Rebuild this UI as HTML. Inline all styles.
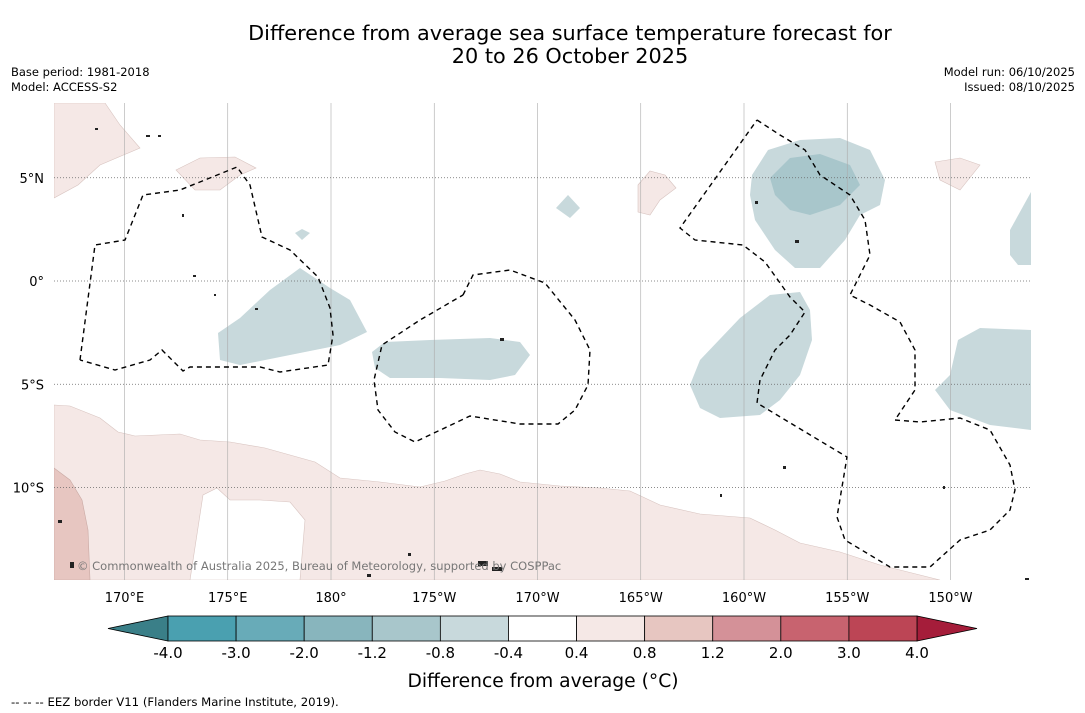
<!DOCTYPE html>
<html><head><meta charset="utf-8"><style>
body{margin:0;background:#fff;font-family:"DejaVu Sans","Liberation Sans",sans-serif;}
#wrap{position:relative;width:1085px;height:713px;overflow:hidden;background:#fff}
.t{position:absolute;color:#000;white-space:nowrap}
svg text{font-family:"DejaVu Sans","Liberation Sans",sans-serif}
</style></head><body>
<div id="wrap">
<div class="t" style="left:0;width:1140px;top:22px;font-size:20.8px;text-align:center;line-height:23px">Difference from average sea surface temperature forecast for<br>20 to 26 October 2025</div>
<div class="t" style="left:11px;top:65px;font-size:11.5px;line-height:15px">Base period: 1981-2018<br>Model: ACCESS-S2</div>
<div class="t" style="right:10px;top:65px;font-size:11.5px;line-height:15px;text-align:right">Model run: 06/10/2025<br>Issued: 08/10/2025</div>
<svg id="svg" width="1085" height="713" style="position:absolute;left:0;top:0">
<defs><clipPath id="mc"><rect x="54" y="103" width="977" height="477"/></clipPath></defs>
<g clip-path="url(#mc)">
<polygon fill="#f5e8e6" stroke="#d8c4c0" stroke-width="0.6" points="54,405 70,406 100,418 118,432 135,436 180,434 200,440 230,442 265,448 290,455 315,462 340,478 380,482 420,487 445,481 465,474 480,470 500,474 520,482 560,486 600,488 630,491 660,505 700,514 750,518 775,530 800,543 840,552 880,565 920,575 940,580 54,580"/>
<polygon fill="#fff" stroke="#d8c4c0" stroke-width="0.6" points="190,580 203,495 217,488 230,500 260,500 290,502 305,520 300,580"/>
<polygon fill="#e7c6c1" stroke="#c9a9a4" stroke-width="0.6" points="54,468 70,480 82,500 88,530 90,580 54,580"/>
<polygon fill="#f5e8e6" stroke="#d8c4c0" stroke-width="0.6" points="54,103 105,103 120,125 140,148 100,165 78,185 54,198"/>
<polygon fill="#f5e8e6" stroke="#d8c4c0" stroke-width="0.6" points="176,170 200,158 235,157 256,168 240,175 220,190 195,190"/>
<polygon fill="#f5e8e6" stroke="#d8c4c0" stroke-width="0.6" points="638,185 650,171 665,175 676,188 660,200 650,215 638,212"/>
<polygon fill="#f5e8e6" stroke="#d8c4c0" stroke-width="0.6" points="935,162 960,158 980,165 960,190 940,180"/>
<g fill="#c8d9dc">
<polygon points="218,333 240,318 270,290 300,268 330,288 350,300 367,332 340,345 290,355 240,365 220,360"/>
<polygon points="372,352 385,342 430,340 490,338 520,342 530,355 515,375 490,380 440,378 390,378 375,368"/>
<polygon points="690,385 700,360 740,318 770,295 800,292 810,310 812,340 800,375 780,400 760,415 720,418 700,408"/>
<polygon points="935,390 950,375 958,340 980,328 1031,330 1031,430 990,425 950,410"/>
<polygon points="1010,230 1031,192 1031,265 1018,265 1010,255"/>
<polygon points="752,175 768,150 800,140 840,138 870,150 885,180 880,205 860,215 845,240 820,268 795,268 775,250 755,220 750,195"/>
<polygon points="556,208 568,195 580,208 570,218"/>
<polygon points="295,233 302,229 310,233 302,240"/>
</g>
<polygon fill="#a8c6cb" points="770,178 790,158 820,154 850,165 860,185 840,205 810,215 790,210 775,195"/>
<g id="grid"></g>
<g fill="none" stroke="#000" stroke-width="1.4" stroke-dasharray="5,4">
<polyline points="80,360 95,245 125,240 143,195 180,190 237,167 250,185 262,237 290,250 318,277 330,308 333,335 328,365 280,372 260,367 190,367 183,371 162,350 150,360 115,370 80,360"/>
<polyline points="463,295 473,275 510,270 545,283 575,320 590,350 588,385 575,410 558,424 520,424 470,416 415,442 395,432 378,410 374,380 382,345 420,320 463,295"/>
<polyline points="757,120 780,135 805,150 820,175 850,195 865,220 870,255 850,295 870,305 900,322 915,350 915,390 895,420"/>
<polyline points="895,420 920,422 960,418 990,430 1010,465 1015,490 1010,510 990,530 960,540 930,567 890,567 870,555 845,540 837,517 847,457 757,403 760,380 775,350 790,335 805,312 790,297 765,262 743,245 695,240 680,228 757,120"/>
</g>
<g fill="#222">
<rect x="95" y="128" width="3" height="2"/><rect x="146" y="135" width="4" height="2"/><rect x="158" y="135" width="3" height="2"/><rect x="182" y="214" width="2" height="3"/><rect x="193" y="275" width="3" height="2"/><rect x="214" y="294" width="2" height="2"/><rect x="255" y="308" width="3" height="2"/><rect x="500" y="338" width="4" height="3"/><rect x="795" y="240" width="4" height="3"/><rect x="755" y="201" width="3" height="3"/><rect x="783" y="466" width="3" height="3"/><rect x="720" y="494" width="2" height="3"/><rect x="478" y="561" width="10" height="5"/><rect x="492" y="567" width="10" height="4"/><rect x="70" y="562" width="4" height="6"/><rect x="58" y="520" width="4" height="3"/><rect x="367" y="574" width="4" height="3"/><rect x="408" y="553" width="3" height="3"/><rect x="943" y="486" width="2" height="3"/><rect x="1025" y="578" width="4" height="2"/>
</g>
</g>
<text x="77" y="570" font-size="11.5" fill="#777">© Commonwealth of Australia 2025, Bureau of Meteorology, supported by COSPPac</text>
<g id="axes"></g>
<g id="cbar"></g>
<text x="543" y="687" font-size="18.7" text-anchor="middle">Difference from average (°C)</text>
<text x="11" y="706" font-size="11.7">-- -- -- EEZ border V11 (Flanders Marine Institute, 2019).</text>
</svg>
</div>
<script>
const lonLabels=["170°E","175°E","180°","175°W","170°W","165°W","160°W","155°W","150°W"];
const lonValues=[170,175,180,185,190,195,200,205,210];
const latLabels=["5°N","0°","5°S","10°S"];
const latValues=[5,0,-5,-10];
const cbBounds=["-4.0","-3.0","-2.0","-1.2","-0.8","-0.4","0.4","0.8","1.2","2.0","3.0","4.0"];
const cbColors=["#4aa0b0","#68abb8","#88b5bd","#a8c6cb","#c8d9dc","#ffffff","#f5e8e6","#e7c6c1","#d49198","#c8636f","#bc4555"];
const ns="http://www.w3.org/2000/svg";
const xs=lon=>331+(lon-180)*20.65, ys=lat=>281-lat*20.65;
const grid=document.getElementById('grid'),axes=document.getElementById('axes'),cb=document.getElementById('cbar');
function mk(tag,at,par){const e=document.createElementNS(ns,tag);for(const k in at)e.setAttribute(k,at[k]);par.appendChild(e);return e;}
lonValues.forEach((v,i)=>{const x=xs(v);
 const l=mk('line',{x1:x,x2:x,y1:103,y2:580,stroke:'#aaa','stroke-width':0.6},grid);
 
 
 const t=mk('text',{x:x,y:602,'font-size':13,'text-anchor':'middle'},axes);t.textContent=lonLabels[i];
 
 });
latValues.forEach((v,i)=>{const y=ys(v);
 const l=mk('line',{x1:54,x2:1031,y1:y,y2:y,stroke:'#666','stroke-width':0.7,'stroke-dasharray':'1,2'},grid);
 
 
 const t=mk('text',{x:44,y:y+5,'font-size':13,'text-anchor':'end'},axes);t.textContent=latLabels[i];
 
 });
const x0=168,x1=917,w=(x1-x0)/cbColors.length,y0=616,h=25;
const la=mk('polygon',{points:`108,${y0+h/2} ${x0},${y0} ${x0},${y0+h}`,fill:'#3a7f88',stroke:'#000','stroke-width':0.8},cb);


const ra=mk('polygon',{points:`977,${y0+h/2} ${x1},${y0} ${x1},${y0+h}`,fill:'#a51d3a',stroke:'#000','stroke-width':0.8},cb);


cbColors.forEach((c,i)=>{const r=mk('rect',{x:x0+i*w,y:y0,width:w,height:h,fill:c,stroke:'#000','stroke-width':0.8},cb);
 
 });
cbBounds.forEach((b,i)=>{const t=mk('text',{x:x0+i*w,y:658,'font-size':15,'text-anchor':'middle'},cb);t.textContent=b;
 
 });
</script>
</body></html>
